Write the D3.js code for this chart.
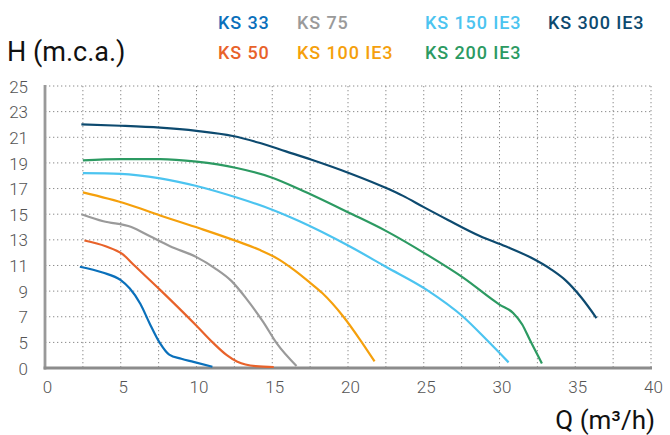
<!DOCTYPE html>
<html><head><meta charset="utf-8">
<script src="https://cdn.jsdelivr.net/npm/d3@7"></script>
<style>
html,body{margin:0;padding:0;background:#fff;}
svg{display:block;}
</style></head>
<body>
<svg id="chart" width="670" height="435"></svg>
<script>
// ---- data ----
const seriesNames = ["KS 33","KS 50","KS 75","KS 100 IE3","KS 150 IE3","KS 200 IE3","KS 300 IE3"];
const seriesColors = ["#0a70bb","#e8622a","#9a9a9a","#f5a00c","#4cc4f0","#2c9a62","#0d4a6f"];
const ks33 = [[2.3,10.9],[3.8,10.45],[5.0,9.85],[5.6,9.2],[6.3,8.0],[6.9,6.5],[7.6,4.8],[8.2,2.6],[9.0,1.8],[9.8,1.2],[11.05,0.25]];
const ks50 = [[2.6,12.95],[4.0,12.5],[5.1,11.9],[5.9,11.0],[7.6,9.1],[10.0,6.3],[11.1,4.9],[12.0,2.5],[12.7,1.2],[13.9,0.35],[15.1,0.2]];
const ks75 = [[2.4,15.0],[3.85,14.45],[5.7,14.0],[6.9,13.3],[8.25,12.5],[10.0,11.65],[11.2,10.8],[12.3,9.8],[13.3,8.4],[14.4,6.6],[15.3,4.8],[16.6,0.4]];
const ks100 = [[2.5,16.7],[5.4,15.8],[7.6,14.9],[10.2,13.9],[12.65,12.9],[14.2,12.2],[15.4,11.5],[16.5,10.6],[17.5,9.65],[18.3,8.85],[19.7,7.0],[20.8,5.2],[21.75,1.3]];
const ks150 = [[2.5,18.2],[5.0,18.15],[7.6,17.8],[10.0,17.2],[12.65,16.3],[15.0,15.35],[16.8,14.45],[20.1,12.5],[22.5,10.9],[25.2,9.1],[27.6,7.0],[29.15,5.2],[30.6,1.1]];
const ks200 = [[2.5,19.2],[5.0,19.3],[7.6,19.3],[10.0,19.1],[12.65,18.6],[15.0,17.85],[16.8,16.95],[20.1,15.1],[22.5,13.7],[25.2,11.85],[27.6,10.05],[30.0,7.95],[30.9,7.3],[31.5,6.4],[32.0,5.2],[32.8,0.9]];
const ks300 = [[2.4,22.0],[5.0,21.9],[7.6,21.75],[10.0,21.5],[12.4,21.1],[14.2,20.55],[15.9,19.9],[17.6,19.25],[20.1,18.2],[22.6,17.0],[23.6,16.45],[25.0,15.55],[26.6,14.55],[28.7,13.3],[30.4,12.5],[32.1,11.6],[33.4,10.7],[34.4,9.8],[35.4,8.5],[36.4,6.9]];
const seriesData = [ks33, ks50, ks75, ks100, ks150, ks200, ks300];
const xTicks = [0,5,10,15,20,25,30,35,40];
const xGrid = [2.5,5,7.5,10,12.5,15,17.5,20,22.5,25,27.5,30,32.5,35,37.5,40];
const yTicks = [0,5,7,9,11,13,15,17,19,21,23,25];
const yLabel = "H (m.c.a.)";
const xLabel = "Q (m³/h)";

// ---- scales ----
const x = d3.scaleLinear().domain([0,40]).range([45,651]);
const y = d3.scaleLinear().domain([0,5,25]).range([368,342.4,86]);

const svg = d3.select("#chart");
const font = "Roboto, 'Noto Sans', sans-serif";

// grid
svg.append("g").selectAll("line").data(yTicks.filter(d=>d>0)).join("line")
  .attr("x1", x(0)).attr("x2", x(40)).attr("y1", d=>y(d)).attr("y2", d=>y(d))
  .attr("stroke","#8a8a8a").attr("stroke-width",1).attr("stroke-dasharray","1.3,2.7");
svg.append("g").selectAll("line").data(xGrid).join("line")
  .attr("x1", d=>x(d)).attr("x2", d=>x(d)).attr("y1", y(25)).attr("y2", y(0))
  .attr("stroke","#8a8a8a").attr("stroke-width",1).attr("stroke-dasharray","1.3,2.7");

// axes lines
svg.append("line").attr("x1", x(0)).attr("x2", x(0)).attr("y1", y(25)-1).attr("y2", y(0)+1.5)
  .attr("stroke","#999").attr("stroke-width",2.8);
svg.append("line").attr("x1", x(0)-1.4).attr("x2", x(40)+1).attr("y1", y(0)).attr("y2", y(0))
  .attr("stroke","#8c8c8c").attr("stroke-width",3);

// y tick labels
const yAxis = d3.axisLeft(y).tickValues(yTicks).tickSize(0).tickPadding(0).tickFormat(d3.format("d"));
const gy = svg.append("g").attr("transform","translate(28,0)").call(yAxis);
gy.select(".domain").remove();
gy.selectAll("text").attr("font-family",font).attr("font-size",17).attr("font-weight",300).attr("fill","#555").attr("dy","0.36em");

// x tick labels
const xAxis = d3.axisBottom(x).tickValues(xTicks).tickSize(0).tickPadding(0).tickFormat(d3.format("d"));
const gx = svg.append("g").attr("transform","translate(2,381)").call(xAxis);
gx.select(".domain").remove();
gx.selectAll("text").attr("font-family",font).attr("font-size",17).attr("font-weight",300).attr("fill","#555").attr("dy","0.71em");

// curves
const line = d3.line().x(d=>x(d[0])).y(d=>y(d[1])).curve(d3.curveMonotoneX);
svg.append("g").selectAll("path").data(seriesData).join("path")
  .attr("d", line).attr("fill","none")
  .attr("stroke",(d,i)=>seriesColors[i]).attr("stroke-width",2.2).attr("stroke-linecap","butt");

// axis titles
svg.append("text").attr("x",7).attr("y",61).text(yLabel)
  .attr("font-family",font).attr("font-size",27).attr("fill","#111");
svg.append("text").attr("x",655).attr("y",429).attr("text-anchor","end").text(xLabel)
  .attr("font-family",font).attr("font-size",26).attr("fill","#111");

// legend
const legCols = [218,297,425,548];
const legPos = [[0,0],[0,1],[1,0],[1,1],[2,0],[2,1],[3,0]];
svg.append("g").selectAll("text").data(seriesNames).join("text")
  .attr("x",(d,i)=>legCols[legPos[i][0]]).attr("y",(d,i)=>29 + legPos[i][1]*30)
  .text(d=>d).attr("fill",(d,i)=>seriesColors[i])
  .attr("font-family",font).attr("font-size",18).attr("font-weight",500).attr("letter-spacing","0.9px");
</script>
</body></html>
